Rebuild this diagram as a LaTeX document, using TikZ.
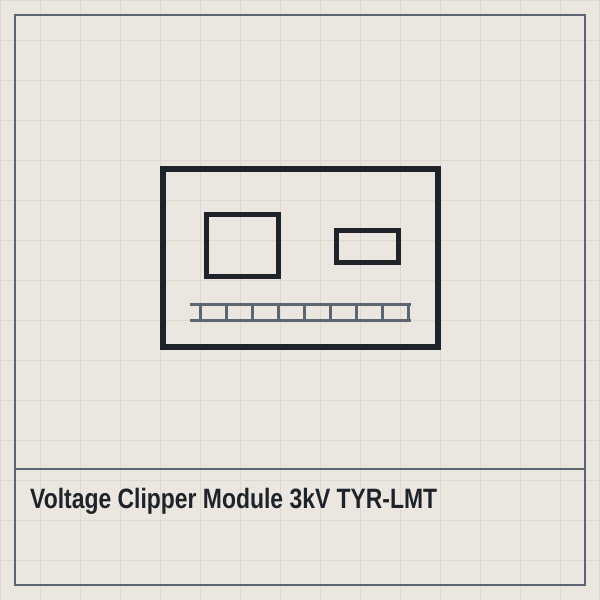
\documentclass[tikz,border=0pt]{standalone}
\usepackage{graphicx}
\usepackage{fontspec}
\setmainfont{Liberation Sans}
\usepackage{tikz}

\definecolor{paper}{HTML}{EBE7E0}
\definecolor{gridtone}{HTML}{DDD8D0}
\definecolor{slate}{HTML}{5B6670}
\definecolor{ink}{HTML}{1E232A}

\tikzset{
  frameline/.style = {draw = slate, line width = 2pt},
  caseline/.style = {draw = ink, line width = 6pt},
  partline/.style = {draw = ink, line width = 5pt},
  railline/.style = {draw = slate, line width = 3pt},
  titletext/.style = {anchor = base west, inner sep = 0pt, text = ink,
    font = \fontsize{28}{28}\selectfont\bfseries}
}

\begin{document}
\begin{tikzpicture}[x = 1pt, y = -1pt]
\fill[paper] (0, 0) rectangle (600, 600);
\useasboundingbox (0, 0) rectangle (600, 600);
\draw[gridtone, line width = 1pt] (0, 0) grid[step = 40pt] (600, 600);
\draw[frameline] (15, 15) rectangle (585, 585);
\draw[frameline] (15, 469) -- (585, 469);
\draw[caseline] (163, 169) rectangle (438, 347);
\draw[partline] (206.5, 214.5) rectangle (278.5, 276.5);
\draw[partline] (336.5, 230.5) rectangle (398.5, 262.5);
\draw[railline] (190, 304.7) -- (411, 304.7);
\draw[railline] (190, 320.7) -- (411, 320.7);
\draw[railline] (200.7, 304.7) -- (200.7, 320.7);
\draw[railline] (226.7, 304.7) -- (226.7, 320.7);
\draw[railline] (252.7, 304.7) -- (252.7, 320.7);
\draw[railline] (278.7, 304.7) -- (278.7, 320.7);
\draw[railline] (304.7, 304.7) -- (304.7, 320.7);
\draw[railline] (330.7, 304.7) -- (330.7, 320.7);
\draw[railline] (356.7, 304.7) -- (356.7, 320.7);
\draw[railline] (382.7, 304.7) -- (382.7, 320.7);
\draw[railline] (408.7, 304.7) -- (408.7, 320.7);
\node[titletext] (title) at (30, 508)
  {\resizebox{407pt}{\height}{Voltage Clipper Module 3kV TYR-LMT}};
\end{tikzpicture}
\end{document}
